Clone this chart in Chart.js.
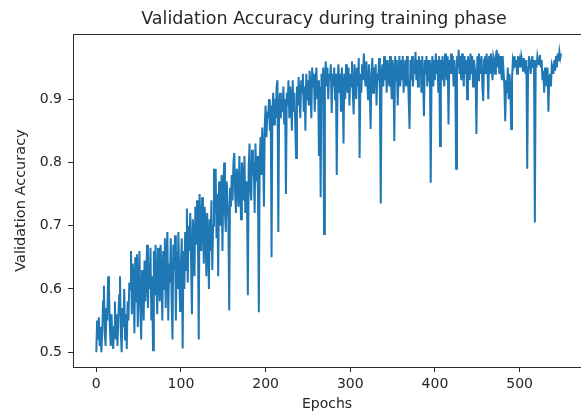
<!DOCTYPE html>
<html>
<head>
<meta charset="utf-8">
<script src="https://cdn.jsdelivr.net/npm/chart.js@4.4.1/dist/chart.umd.min.js"></script>
<style>
    html, body { margin: 0; padding: 0; background: #fff; }
    #wrap { width: 581px; height: 418px; }
</style>
</head>
<body>
<div id="wrap"><canvas id="myChart" width="581" height="418"></canvas></div>
<script>
// validation accuracy per epoch in blocks of epochs
const acc000 = [
    0.50, 0.55, 0.52, 0.555, 0.51, 0.54, 0.50, 0.53, 0.58, 0.605, 0.53, 0.51, 0.57, 0.55, 0.62, 0.60, 0.54, 0.51, 0.56, 0.52,
    0.505, 0.54, 0.58, 0.52, 0.56, 0.51, 0.55, 0.59, 0.62, 0.53, 0.50, 0.57, 0.54, 0.60, 0.52, 0.56, 0.505, 0.58, 0.55, 0.61,
    0.60, 0.66, 0.56, 0.64, 0.62, 0.53, 0.65, 0.58, 0.655, 0.54, 0.61, 0.66, 0.57, 0.52, 0.63, 0.60, 0.55, 0.645, 0.58, 0.62,
    0.67, 0.57, 0.64, 0.60, 0.665, 0.55, 0.62, 0.503, 0.66, 0.59, 0.67, 0.61, 0.56, 0.665, 0.63, 0.58, 0.67, 0.62, 0.55, 0.66,
    0.60, 0.68, 0.57, 0.655, 0.69, 0.55, 0.64, 0.61, 0.68, 0.58, 0.52, 0.67, 0.63, 0.685, 0.55, 0.66, 0.60, 0.69, 0.62, 0.565
];
const acc100 = [
    0.64, 0.68, 0.506, 0.66, 0.60, 0.69, 0.63, 0.727, 0.61, 0.70, 0.66, 0.72, 0.64, 0.56, 0.71, 0.68, 0.62, 0.73, 0.67, 0.74,
    0.69, 0.52, 0.75, 0.70, 0.66, 0.745, 0.72, 0.64, 0.73, 0.70, 0.62, 0.72, 0.68, 0.60, 0.71, 0.66, 0.74, 0.63, 0.70, 0.79,
    0.72, 0.79, 0.68, 0.75, 0.62, 0.77, 0.73, 0.70, 0.78, 0.66, 0.76, 0.80, 0.72, 0.69, 0.77, 0.74, 0.71, 0.566, 0.76, 0.73,
    0.78, 0.74, 0.80, 0.815, 0.75, 0.72, 0.79, 0.77, 0.73, 0.81, 0.76, 0.71, 0.80, 0.78, 0.74, 0.81, 0.72, 0.77, 0.75, 0.59,
    0.79, 0.83, 0.76, 0.74, 0.82, 0.78, 0.80, 0.72, 0.83, 0.77, 0.81, 0.75, 0.563, 0.80, 0.84, 0.78, 0.855, 0.82, 0.73, 0.86
];
const acc200 = [
    0.89, 0.84, 0.88, 0.87, 0.90, 0.85, 0.89, 0.65, 0.88, 0.91, 0.86, 0.90, 0.87, 0.92, 0.93, 0.69, 0.89, 0.91, 0.87, 0.90,
    0.88, 0.92, 0.86, 0.90, 0.75, 0.91, 0.89, 0.93, 0.87, 0.92, 0.90, 0.85, 0.93, 0.88, 0.91, 0.86, 0.807, 0.92, 0.89, 0.935,
    0.90, 0.87, 0.93, 0.91, 0.94, 0.88, 0.92, 0.85, 0.94, 0.90, 0.93, 0.89, 0.945, 0.91, 0.87, 0.95, 0.92, 0.94, 0.88, 0.93,
    0.95, 0.90, 0.93, 0.81, 0.92, 0.745, 0.94, 0.91, 0.95, 0.687, 0.93, 0.96, 0.92, 0.95, 0.90, 0.94, 0.93, 0.955, 0.878, 0.94,
    0.92, 0.95, 0.90, 0.94, 0.78, 0.93, 0.955, 0.91, 0.94, 0.88, 0.95, 0.92, 0.83, 0.94, 0.90, 0.955, 0.93, 0.91, 0.95, 0.89
];
const acc300 = [
    0.94, 0.92, 0.96, 0.91, 0.876, 0.955, 0.93, 0.90, 0.95, 0.92, 0.965, 0.807, 0.94, 0.91, 0.955, 0.93, 0.972, 0.94, 0.92, 0.96,
    0.93, 0.90, 0.955, 0.92, 0.853, 0.94, 0.965, 0.91, 0.95, 0.92, 0.955, 0.89, 0.94, 0.93, 0.965, 0.91, 0.735, 0.94, 0.955, 0.92,
    0.968, 0.93, 0.962, 0.91, 0.962, 0.94, 0.92, 0.968, 0.93, 0.90, 0.962, 0.94, 0.834, 0.968, 0.93, 0.962, 0.89, 0.94, 0.968, 0.92,
    0.962, 0.93, 0.968, 0.91, 0.945, 0.962, 0.92, 0.968, 0.94, 0.90, 0.853, 0.962, 0.93, 0.968, 0.92, 0.95, 0.94, 0.975, 0.93, 0.962,
    0.92, 0.968, 0.94, 0.962, 0.91, 0.968, 0.93, 0.873, 0.962, 0.94, 0.968, 0.92, 0.962, 0.93, 0.962, 0.768, 0.94, 0.968, 0.92, 0.962
];
const acc400 = [
    0.93, 0.972, 0.94, 0.962, 0.91, 0.968, 0.826, 0.962, 0.93, 0.968, 0.94, 0.92, 0.972, 0.95, 0.93, 0.968, 0.86, 0.962, 0.94, 0.972,
    0.94, 0.968, 0.92, 0.962, 0.94, 0.79, 0.968, 0.95, 0.978, 0.94, 0.968, 0.93, 0.972, 0.95, 0.92, 0.968, 0.94, 0.962, 0.90, 0.968,
    0.95, 0.93, 0.972, 0.94, 0.968, 0.92, 0.962, 0.95, 0.94, 0.845, 0.968, 0.93, 0.972, 0.95, 0.94, 0.968, 0.92, 0.897, 0.962, 0.968,
    0.94, 0.972, 0.95, 0.90, 0.968, 0.94, 0.972, 0.95, 0.93, 0.968, 0.962, 0.94, 0.968, 0.978, 0.95, 0.972, 0.94, 0.968, 0.95, 0.93,
    0.968, 0.945, 0.92, 0.865, 0.93, 0.91, 0.95, 0.90, 0.94, 0.92, 0.853, 0.93, 0.962, 0.955, 0.968, 0.95, 0.962, 0.94, 0.968, 0.955
];
const acc500 = [
    0.962, 0.95, 0.968, 0.96, 0.945, 0.965, 0.955, 0.94, 0.962, 0.79, 0.95, 0.968, 0.96, 0.94, 0.955, 0.968, 0.95, 0.962, 0.705, 0.962,
    0.95, 0.968, 0.96, 0.955, 0.97, 0.95, 0.962, 0.93, 0.945, 0.91, 0.95, 0.94, 0.92, 0.95, 0.88, 0.93, 0.94, 0.92, 0.955, 0.95,
    0.94, 0.962, 0.945, 0.968, 0.95, 0.972, 0.96, 0.975, 0.965, 0.972
];

const xTicks = [0, 100, 200, 300, 400, 500];
const yTicks = [0.5, 0.6, 0.7, 0.8, 0.9];
const titulo = 'Validation Accuracy during training phase';
const tituloX = 'Epochs';
const tituloY = 'Validation Accuracy';

const valores = [].concat(acc000, acc100, acc200, acc300, acc400, acc500);
const pontos = [];
for (let n = 0; n < valores.length; n++) {
    pontos.push({ x: n, y: valores[n] });
}

const corTexto = '#262626';
const corEixo = '#2a2a2a';

// title centred over the plot area, like matplotlib, plus top spine
const moldura = {
    id: 'moldura',
    afterDraw(chart) {
        const ctx = chart.ctx;
        const a = chart.chartArea;
        ctx.save();
        ctx.strokeStyle = corEixo;
        ctx.lineWidth = 1;
        ctx.beginPath();
        ctx.moveTo(a.left, a.top + 0.5);
        ctx.lineTo(a.right, a.top + 0.5);
        ctx.stroke();
        ctx.fillStyle = corTexto;
        ctx.font = '17.5px "DejaVu Sans"';
        ctx.textAlign = 'center';
        ctx.textBaseline = 'middle';
        ctx.fillText(titulo, (a.left + a.right) / 2 - 3, 19);
        ctx.restore();
    }
};

const dados = {
    datasets: [{
        label: tituloY,
        data: pontos,
        borderColor: '#1f77b4',
        backgroundColor: '#1f77b4',
        borderWidth: 2,
        pointRadius: 0,
        tension: 0,
        fill: false
    }]
};

const options = {
    responsive: false,
    animation: false,
    layout: { padding: { top: 34, left: 0, right: 0, bottom: 0 } },
    plugins: {
        legend: { display: false },
        tooltip: { enabled: false },
        title: { display: false }
    },
    scales: {
        x: {
            type: 'linear',
            min: -27.5,
            max: 572.5,
            afterFit: function (s) { s.height = 51; },
            afterBuildTicks: function (s) { s.ticks = xTicks.map(v => ({ value: v })); },
            grid: { drawOnChartArea: false, drawTicks: true, tickLength: 5, color: corEixo, lineWidth: 1 },
            border: { display: true, color: corEixo, width: 1 },
            ticks: { color: corTexto, padding: 4, maxRotation: 0, font: { family: 'DejaVu Sans', size: 14 } },
            title: { display: true, text: tituloX, color: corTexto, padding: { top: 0, bottom: 5 }, font: { family: 'DejaVu Sans', size: 14 } }
        },
        y: {
            min: 0.4766,
            max: 1.003,
            afterFit: function (s) { s.width = 73; },
            afterBuildTicks: function (s) { s.ticks = yTicks.map(v => ({ value: v })); },
            grid: { drawOnChartArea: false, drawTicks: true, tickLength: 5, color: corEixo, lineWidth: 1 },
            border: { display: true, color: corEixo, width: 1 },
            ticks: { color: corTexto, padding: 6, font: { family: 'DejaVu Sans', size: 14 }, callback: v => v.toFixed(1) },
            title: { display: true, text: tituloY, color: corTexto, padding: { top: 13, bottom: 0 }, font: { family: 'DejaVu Sans', size: 14.5 } }
        }
    }
};

let config = {
    type: 'line',
    data: dados,
    options: options,
    plugins: [moldura]
};
let myChart = new Chart(document.getElementById('myChart'), config);
</script>
</body>
</html>
